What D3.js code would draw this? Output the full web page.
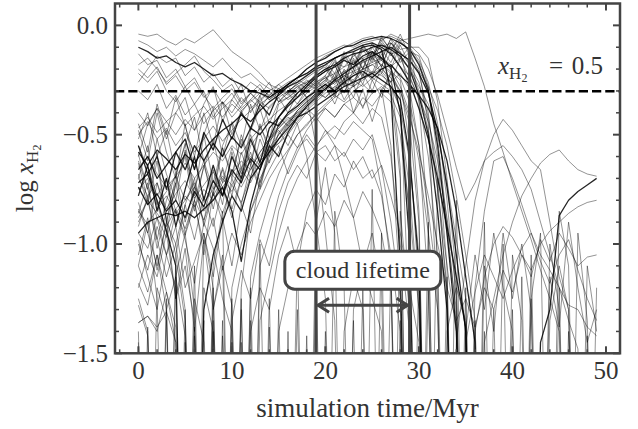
<!DOCTYPE html>
<html>
<head>
<meta charset="utf-8">
<script src="https://cdn.jsdelivr.net/npm/d3@7"></script>
<style>
  html, body { margin: 0; padding: 0; background: #fff; }
  svg { display: block; }
</style>
</head>
<body>
<svg id="chart" width="638" height="429"></svg>
<script>
// Molecular fraction histories of individual clouds, one snapshot per Myr.
const L = -3; // value below the plotted range (cloud dispersed)

const snapshotMyr = [0,1,2,3,4,5,6,7,8,9,10,11,12,13,14,15,16,17,18,19,
  20,21,22,23,24,25,26,27,28,29,30,31,32,33,34,35,36,37,38,39,
  40,41,42,43,44,45,46,47,48,49];

// clouds that start almost fully molecular
const topStartTracks = [
  [-0.04,-0.05,-0.04,-0.07,-0.09,-0.06,-0.08,-0.05,-0.02,-0.07, -0.12,-0.15,-0.18,-0.22,-0.27,-0.29,-0.26,-0.24,-0.20,-0.17, -0.14,-0.12,-0.10,-0.08,-0.06,-0.05,-0.07,-0.04,-0.06,-0.09, -0.35,-0.90,L],
  [-0.10,-0.12,-0.15,-0.14,-0.17,-0.19,-0.17,-0.20,-0.23,-0.22, -0.25,-0.27,-0.30,-0.31,-0.33,-0.30,-0.27,-0.24,-0.22,-0.19, -0.17,-0.15,-0.13,-0.12,-0.10,-0.09,-0.11,-0.30,-1.10,L],
  [-0.07,-0.09,-0.12,-0.10,-0.14,-0.11,-0.13,-0.16,-0.19,-0.15, -0.20,-0.24,-0.22,-0.26,-0.29,-0.31,-0.28,-0.25,-0.27,-0.22, -0.18,-0.24,-0.13,-0.20,-0.09,-0.16,-0.05,-0.12,-0.04,-0.14, -0.20,-0.45,-1.30,L],
  [-0.18,-0.15,-0.20,-0.26,-0.22,-0.18,-0.14,-0.21,-0.25,-0.30, -0.27,-0.35,-0.31,-0.27,-0.33,-0.29,-0.32,-0.28,-0.26,-0.24, -0.21,-0.15,-0.25,-0.12,-0.20,-0.08,-0.15,-0.06,-0.17,-0.12, -0.22,-0.40,-0.75,-1.20,L],
  [-0.22,-0.26,-0.21,-0.30,-0.35,-0.28,-0.24,-0.32,-0.38,-0.33, -0.29,-0.36,-0.31,-0.35,-0.30,-0.27,-0.31,-0.26,-0.29,-0.25, -0.30,-0.24,-0.34,-0.27,-0.38,-0.25,-0.33,-0.21,-0.32,-1.40, L],
  [-0.13,-0.18,-0.16,-0.24,-0.20,-0.28,-0.36,-0.30,-0.42,-0.35, -0.40,-0.33,-0.38,-0.34,-0.30,-0.35,-0.33,-0.29,-0.25,-0.28, -0.23,-0.32,-0.24,-0.40,-0.29,-0.44,-0.30,-0.22,-0.65,L],
  [-0.26,-0.20,-0.14,-0.17,-0.15,-0.23,-0.19,-0.26,-0.22,-0.28, -0.24,-0.31,-0.26,-0.29,-0.34,-0.31,-0.28,-0.33,-0.30,-0.26, -0.24,-0.27,-0.23,-0.26,-0.21,-0.25,-0.22,-0.28,-0.38,-0.90, L],
  [-0.30,-0.34,-0.27,-0.38,-0.32,-0.41,-0.36,-0.45,-0.39,-0.35, -0.42,-0.37,-0.31,-0.36,-0.33,-0.30,-0.34,-0.31,-0.28,-0.24, -0.21,-0.17,-0.19,-0.14,-0.11,-0.13,-0.10,-0.08,-0.12,-0.30, -0.85,L]
];

// clouds that start partly molecular and build up H2
const midStartTracks = [
  [-0.55,-0.68,-0.60,-0.75,-0.58,-0.52,-0.66,-0.49,-0.57,-0.43, -0.52,-0.40,-0.47,-0.36,-0.41,-0.31,-0.27,-0.24,-0.20,-0.17, -0.15,-0.12,-0.10,-0.09,-0.07,-0.06,-0.05,-0.06,-0.08,-0.11, -0.18,-0.30,-0.55,-0.95,-1.40,L],
  [-0.63,-0.80,-0.58,-0.90,-0.69,-0.54,-0.78,-0.50,-0.72,-0.55, -0.45,-0.66,-0.48,-0.38,-0.52,-0.36,-0.33,-0.30,-0.26,-0.23, -0.20,-0.26,-0.15,-0.22,-0.11,-0.17,-0.08,-0.14,-0.07,-0.12, -0.14,-0.28,-0.60,-1.10,L],
  [-0.78,-0.64,-0.85,-0.70,-0.92,-0.75,-0.60,-0.80,-0.64,-0.78, -0.60,-0.70,-0.52,-0.63,-0.47,-0.42,-0.37,-0.33,-0.28,-0.24, -0.21,-0.19,-0.16,-0.18,-0.14,-0.12,-0.15,-0.19,-0.40,-1.00, L],
  [-0.48,-0.62,-0.40,-0.58,-0.70,-0.45,-0.66,-0.50,-0.38,-0.60, -0.44,-0.55,-0.36,-0.48,-0.37,-0.33,-0.40,-0.31,-0.27,-0.29, -0.25,-0.18,-0.28,-0.16,-0.24,-0.12,-0.19,-0.08,-0.15,-0.10, -0.10,-0.15,-0.35,-0.70,-1.15,L],
  [-0.70,-0.55,-0.82,-0.95,-0.72,-0.60,-0.85,-0.64,-0.78,-0.56, -0.70,-0.50,-0.63,-0.45,-0.58,-0.45,-0.40,-0.36,-0.31,-0.28, -0.25,-0.30,-0.20,-0.27,-0.15,-0.24,-0.13,-0.20,-0.09,-0.18, -0.26,-0.42,-0.68,-0.95,-1.30,L],
  [-0.86,-0.72,-0.98,-0.80,-0.68,-0.90,-0.74,-0.62,-0.84,-0.65, -0.78,-0.58,-0.70,-0.52,-0.63,-0.49,-0.44,-0.39,-0.35,-0.32, -0.29,-0.26,-0.23,-0.25,-0.20,-0.18,-0.16,-0.19,-0.15,-0.20, -0.28,-0.36,-0.50,-0.72,-0.98,-1.25,L],
  [-0.59,-0.75,-0.52,-0.68,-0.80,-0.57,-0.74,-0.90,-0.66,-0.82, -0.58,-0.72,-0.55,-0.49,-0.60,-0.45,-0.41,-0.38,-0.34,-0.30, -0.33,-0.29,-0.26,-0.28,-0.24,-0.21,-0.23,-0.26,-0.22,-0.29, -0.55,-1.20,L],
  [-0.66,-0.60,-0.70,-0.64,-0.58,-0.66,-0.55,-0.62,-0.54,-0.60, -0.51,-0.56,-0.47,-0.50,-0.44,-0.46,-0.40,-0.37,-0.33,-0.30, -0.27,-0.30,-0.26,-0.23,-0.21,-0.24,-0.20,-0.18,-0.23,-0.27, -0.32,-0.38,-0.47,-0.62,-0.85,-1.15,-1.45,L],
  [-0.92,-0.78,-1.02,-0.85,-0.72,-0.95,-0.80,-1.05,-0.76,-0.90, -0.70,-0.82,-0.64,-0.75,-0.58,-0.50,-0.44,-0.41,-0.38,-0.34, -0.30,-0.22,-0.31,-0.20,-0.27,-0.14,-0.22,-0.12,-0.19,-0.23, -0.34,-0.60,-1.05,L],
  [-0.74,-0.82,-0.77,-0.85,-0.80,-0.88,-0.76,-0.83,-0.71,-0.78, -0.66,-0.72,-0.61,-0.66,-0.55,-0.60,-0.49,-0.42,-0.37,-0.33, -0.29,-0.25,-0.22,-0.19,-0.16,-0.14,-0.12,-0.10,-0.13,-0.16, -0.22,-0.31,-0.48,-0.74,-1.05,-1.40,L],
  [-0.52,-0.40,-0.60,-0.48,-0.68,-0.55,-0.42,-0.62,-0.75,-0.56, -0.68,-0.52,-0.64,-0.46,-0.55,-0.42,-0.46,-0.39,-0.35,-0.31, -0.28,-0.36,-0.25,-0.33,-0.22,-0.30,-0.19,-0.26,-0.15,-0.24, -0.33,-0.44,-0.62,-0.88,-1.20,L],
  [-0.81,-0.95,-0.72,-0.88,-1.05,-0.82,-0.70,-0.92,-0.76,-0.66, -0.84,-0.70,-0.58,-0.72,-0.56,-0.54,-0.48,-0.43,-0.37,-0.32, -0.28,-0.25,-0.27,-0.23,-0.20,-0.22,-0.18,-0.21,-0.25,-0.55, -1.20,L],
  [-0.95,-0.90,-0.88,-0.86,-0.87,-0.85,-0.88,-0.84,-0.80,-0.74, -0.85,-1.08,-0.82,-0.66,-0.52,-0.42,-0.36,-0.31,-0.27,-0.23, -0.20,-0.18,-0.15,-0.13,-0.12,-0.10,-0.09,-0.11,-0.14,-0.20, -0.32,-0.50,-0.85,-1.30,L],
  [-0.45,-0.58,-0.36,-0.50,-0.33,-0.46,-0.60,-0.40,-0.55,-0.35, -0.50,-0.39,-0.48,-0.32,-0.45,-0.35,-0.31,-0.36,-0.29,-0.26, -0.23,-0.16,-0.25,-0.13,-0.20,-0.10,-0.16,-0.06,-0.11,-0.10, -0.16,-0.26,-0.45,-0.80,-1.25,L],
  [-1.05,-0.88,-1.12,-0.90,-1.00,-0.82,-0.98,-0.78,-0.92,-0.74, -0.88,-0.70,-0.62,-0.74,-0.57,-0.52,-0.46,-0.41,-0.36,-0.31, -0.27,-0.33,-0.21,-0.28,-0.16,-0.22,-0.11,-0.17,-0.08,-0.11, -0.17,-0.29,-0.52,-0.90,-1.35,L],
  [-0.68,-0.82,-0.62,-0.90,-0.73,-0.58,-0.80,-0.65,-0.52,-0.72, -0.56,-0.68,-0.50,-0.62,-0.53,-0.48,-0.55,-0.45,-0.40,-0.44, -0.38,-0.42,-0.36,-0.40,-0.33,-0.37,-0.31,-0.35,-0.50,-0.85, -1.30,L],
  [-0.60,-0.45,-0.38,-0.52,-0.40,-0.33,-0.48,-0.36,-0.28,-0.44, -0.34,-0.27,-0.40,-0.32,-0.26,-0.35,-0.30,-0.27,-0.33,-0.29, -0.26,-0.18,-0.27,-0.15,-0.23,-0.12,-0.19,-0.08,-0.13,-0.16, -0.21,-0.28,-0.39,-0.55,-0.78,-1.05,-1.35,L]
];

// clouds that repeatedly lose most of their H2 early on
const dippingTracks = [
  [-0.84,-0.95,-1.10,-0.90,-1.25,-1.02,-1.40,-0.98,-1.30,-1.05, L,-1.20,-0.85,-0.72,-0.60,-0.52,-0.45,-0.39,-0.35,-0.31, -0.33,-0.28,-0.30,-0.25,-0.28,-0.24,-0.27,-0.30,-0.70,L],
  [-1.20,-1.05,-1.15,-0.95,-1.25,-1.10,-1.35,L,-1.30,-1.10, -1.28,L,-1.15,-0.95,-0.80,-0.68,-0.58,-0.50,-0.46,-0.40, -0.36,-0.32,-0.35,-0.30,-0.27,-0.31,-0.29,-0.55,-1.20,L],
  [-1.36,-1.33,-1.40,-1.22,-1.45,L,-1.38,L,L,-1.42, L,-1.25,L,-1.10,-0.95,-0.78,-0.66,-0.56,-0.48,-0.42, -0.37,-0.33,-0.30,-0.28,-0.25,-0.22,-0.20,-0.24,-0.30,-0.45, -0.90,L],
  [-0.62,-0.75,-0.88,-1.05,-0.92,-1.20,-1.08,-0.95,-1.15,-0.88, -1.10,-0.82,-0.95,-0.70,-0.62,-0.55,-0.68,-0.58,-0.50,-0.56, -0.48,-0.52,-0.44,-0.40,-0.45,-0.38,-0.42,-0.60,-1.00,-1.40, L],
  [-0.90,-0.80,-0.98,-1.15,-1.00,-1.30,L,-1.20,-1.40,L, -1.35,-1.12,-1.25,-0.98,-1.10,-0.85,-0.72,-0.64,-0.70,-0.58, -0.62,-0.55,-0.60,-0.52,-0.57,-0.50,-0.65,-0.90,-1.25,L],
  [-1.18,-1.28,-1.05,-1.22,-1.38,L,-1.25,-1.45,L,L, L,L,-1.40,-1.20,-1.30,-1.05,-0.92,-1.10,-0.85,-0.75, -0.82,-0.68,-0.74,-0.62,-0.70,-0.66,-0.78,-1.05,-1.40,L],
  [-0.72,-0.68,-0.80,-0.94,-1.10,L,L,-1.30,-1.05,-0.90, -0.78,-0.85,-0.70,-0.64,-0.58,-0.52,-0.47,-0.42,-0.40,-0.37, -0.34,-0.31,-0.28,-0.26,-0.24,-0.22,-0.25,-0.28,-0.34,-0.60, -1.10,L],
  [-1.00,-1.12,-0.92,-1.05,-0.85,-0.98,-1.18,-0.90,-1.02,-1.25, -1.40,L,L,-1.35,-1.15,-0.95,-0.80,-0.70,-0.62,-0.55, -0.50,-0.46,-0.50,-0.44,-0.48,-0.52,-0.75,-1.10,L],
  [-1.36,-1.33,-1.38,-1.31,-1.45,L,-1.42,L,-1.48,L, L,L,-1.35,L,L,-1.40,-1.20,-1.02,-0.90,-0.96, -0.85,-0.92,-0.80,-0.88,-0.76,-0.84,-0.95,-1.20,L],
  [-0.55,-0.65,-0.78,-0.70,-0.85,-0.96,-0.82,-1.00,-0.88,-1.12, -0.95,-1.05,-0.90,-0.80,-0.70,-0.63,-0.57,-0.50,-0.45,-0.41, -0.38,-0.42,-0.36,-0.33,-0.37,-0.31,-0.28,-0.32,-0.42,-0.75, -1.30,L]
];

// clouds destroyed before the main peak
const earlyLossTracks = [
  [-0.40,-0.46,-0.38,-0.44,-0.50,-0.43,-0.48,-0.41,-0.37,-0.42, -0.36,-0.40,-0.34,-0.38,-0.32,-0.29,-0.31,-0.28,-0.33,-0.55, -0.95,-1.35,L,-1.30,-1.10,-1.25,-1.40,L],
  [-0.95,-1.02,-0.88,-0.97,-0.84,-0.93,-0.80,-0.89,-0.77,-0.86, -0.73,-0.81,-0.69,-0.60,-0.53,-0.47,-0.42,-0.45,-0.60,-0.90, -1.25,L,-1.40,-1.15,-1.30,L],
  [-0.75,-0.70,-0.82,-0.76,-0.69,-0.80,-0.72,-0.85,-0.78,-0.70, -0.76,-0.66,-0.72,-0.62,-0.58,-0.54,-0.50,-0.56,-0.52,-0.58, -0.55,-0.62,-0.58,-0.66,-0.60,-0.70,-0.64,-0.78,-0.95,-1.20, -1.45,L],
  [-0.88,-0.80,-0.86,-0.92,-0.84,-0.78,-0.83,-0.75,-0.80,-0.72, -0.68,-0.74,-0.66,-0.58,-0.52,-0.47,-0.43,-0.40,-0.38,-0.42, -0.48,-0.55,-0.70,-0.88,-1.10,-0.95,-1.20,L,-1.35,L]
];

// clouds hovering near the bottom of the range, with brief H2 episodes
const flickerTracks = [
  [-1.10,-0.90,-1.25,L,-1.05,-1.35,L,-0.95,-1.20,L, L,-1.30,L,L,L,L,-1.40,L,L,-0.90, -0.65,-0.95,L,L,-1.20,L,L,L,-0.85,-1.30, L,L,L,-1.15,L,L,L,-0.90,L,L, -1.30,L,-1.05,L,L,-1.20,L,-0.95,-1.35,L],
  [-1.45,L,-1.20,-1.35,L,L,-1.10,L,-1.40,L, -1.25,L,L,-1.00,L,L,L,-1.30,L,L, L,-0.85,-1.20,L,L,-0.75,L,L,L,L, -1.10,L,-0.70,-1.25,L,L,-1.35,L,L,-1.00, L,L,-1.25,-0.95,L,L,-1.40,L,L,-1.20],
  [-0.98,-1.15,-1.30,-1.05,-1.20,L,L,L,-1.10,-0.85, L,L,-1.20,L,L,-1.30,L,L,L,-1.15, L,L,L,-1.35,L,L,-0.95,L,L,-1.40, L,-1.20,L,L,-0.80,L,L,L,-1.30,L, L,-1.15,L,L,-1.00,-1.30,L,L,-1.10,-1.40],
  [-1.28,-1.42,L,L,-1.15,-0.95,-1.30,L,L,L, -1.45,L,L,L,-1.25,L,L,-1.05,L,L, -1.40,L,L,L,L,L,L,-1.10,L,L, L,-0.90,L,L,L,-1.20,L,-1.40,L,L, -1.05,-1.35,L,L,L,-0.85,-1.10,L,L,L],
  [-1.40,L,L,-1.25,L,L,L,L,L,-1.35, L,L,L,L,L,L,L,L,L,L, L,L,L,L,L,L,L,L,L,L, L,L,L,L,L,-1.45,-1.22,-1.05,-1.15,-1.25, -1.12,-1.02,-0.95,-1.08,-1.18,-1.05,-0.98,-1.12,-1.25,-1.35],
  [L,-1.38,L,L,L,-1.30,L,L,-1.20,L, L,L,L,L,L,L,L,L,L,L, L,L,L,L,L,L,L,L,L,L, L,L,L,L,L,L,-1.20,-0.85,-0.62,-0.60, -0.70,-0.82,-0.95,-1.05,-1.12,-1.20,-1.28,-1.30,-1.38,-1.42]
];

// clouds that survive longer or re-form molecular gas late
const lateTracks = [
  [-0.20,-0.24,-0.19,-0.27,-0.23,-0.30,-0.26,-0.33,-0.29,-0.36, -0.31,-0.38,-0.34,-0.29,-0.32,-0.27,-0.24,-0.21,-0.18,-0.15, -0.13,-0.11,-0.09,-0.10,-0.08,-0.07,-0.06,-0.05,-0.07,-0.06, -0.05,-0.04,-0.05,-0.04,-0.06,-0.03,-0.15,-0.28,-0.45,-0.58, -0.72,-0.85,-0.98,-1.12,-1.25,-1.40,L],
  [-1.10,-1.22,-1.05,-1.30,-1.15,-1.42,L,-1.35,L,L, L,-1.45,L,L,-1.38,L,L,L,-1.42,L, L,L,L,L,L,L,L,L,L,L, L,L,L,L,-1.45,-1.10,-0.80,-0.62,-0.50,-0.43, -0.48,-0.55,-0.62,-0.66,-0.90,-1.15,-1.30,L],
  [-0.50,-0.44,-0.52,-0.47,-0.55,-0.49,-0.58,-0.52,-0.46,-0.53, -0.48,-0.43,-0.39,-0.35,-0.38,-0.33,-0.30,-0.27,-0.24,-0.21, -0.19,-0.25,-0.14,-0.20,-0.10,-0.15,-0.07,-0.13,-0.12,-0.18, -0.30,-0.48,-0.75,-1.10,-1.40,L,L,-1.45,-1.25,-1.05, -0.90,-0.78,-0.70,-0.63,-0.59,-0.57,-0.62,-0.66,-0.68,-0.69],
  [-0.58,-0.64,-0.57,-0.61,-0.66,-0.59,-0.63,-0.57,-0.52,-0.48, -0.45,-0.41,-0.44,-0.39,-0.35,-0.32,-0.28,-0.26,-0.23,-0.20, -0.18,-0.15,-0.13,-0.11,-0.09,-0.08,-0.10,-0.13,-0.19,-0.26, -0.38,-0.52,-0.70,-0.92,-1.15,-1.38,L,L,L,L, L,L,L,-1.45,-1.30,-0.87,-0.80,-0.76,-0.73,-0.70],
  [-0.70,-0.78,-0.72,-0.84,-0.77,-0.71,-0.79,-0.73,-0.67,-0.74, -0.68,-0.62,-0.66,-0.58,-0.52,-0.46,-0.41,-0.37,-0.33,-0.30, -0.27,-0.24,-0.21,-0.19,-0.17,-0.15,-0.18,-0.22,-0.30,-0.42, -0.58,-0.78,-1.00,-1.20,-1.35,-1.25,-1.38,-1.20,-1.30,-1.12, -1.22,-1.05,-1.15,-0.98,-1.08,-0.95,-1.02,-1.10,-1.06,-1.05],
  [-0.65,-0.60,-0.68,-0.74,-0.69,-0.63,-0.70,-0.64,-0.58,-0.62, -0.55,-0.59,-0.52,-0.47,-0.43,-0.39,-0.36,-0.33,-0.30,-0.27, -0.24,-0.22,-0.19,-0.17,-0.15,-0.13,-0.16,-0.20,-0.28,-0.40, -0.62,-0.95,-1.30,L,L,-1.40,-1.05,-1.30,-0.95,-1.20, -1.40,L,-1.25,L,-1.35,-1.10,-1.30,L,-1.42,L],
  [-0.85,-0.91,-0.84,-0.78,-0.86,-0.80,-0.74,-0.81,-0.75,-0.69, -0.73,-0.65,-0.60,-0.64,-0.56,-0.50,-0.45,-0.40,-0.36,-0.32, -0.29,-0.26,-0.23,-0.21,-0.19,-0.17,-0.15,-0.18,-0.24,-0.35, -0.55,-0.85,-1.20,L,L,L,-1.40,-1.15,-1.00,-0.92, -0.97,-1.05,-1.12,-1.00,-0.94,-0.90,-0.86,-0.83,-0.81,-0.80],
  [-0.47,-0.42,-0.49,-0.44,-0.40,-0.46,-0.41,-0.37,-0.43,-0.38, -0.34,-0.39,-0.35,-0.31,-0.34,-0.30,-0.27,-0.24,-0.22,-0.19, -0.17,-0.22,-0.12,-0.18,-0.09,-0.14,-0.06,-0.11,-0.06,-0.09, -0.13,-0.20,-0.32,-0.48,-0.65,-0.80,-0.72,-0.62,-0.58,-0.55, -0.60,-0.66,-0.75,-0.90,-1.05,-1.20,-1.35,-1.48,L],
  [-1.25,-1.40,L,-1.30,L,-1.45,L,L,-1.35,L, -1.20,-1.00,-0.85,-0.75,-0.66,-0.58,-0.50,-0.44,-0.39,-0.35, -0.31,-0.28,-0.25,-0.22,-0.20,-0.18,-0.21,-0.26,-0.38,-0.62, -1.05,L,L,-1.40,-1.20,-1.35,L,-1.10,-1.40,-0.95, -1.25,-1.00,-1.30,L,-1.15,-1.38,-0.90,-1.20,-1.45,-1.30]
];

// tracks drawn with a heavier stroke
const emphasizedTracks = ["top-1", "mid-0", "mid-2", "mid-7", "mid-9", "mid-12", "dip-6", "late-3"];

const xMajorTicks = [0, 10, 20, 30, 40, 50];
const xMinorTicks = [-2, 2, 4, 6, 8, 12, 14, 16, 18, 22, 24, 26, 28, 32, 34, 36, 38, 42, 44, 46, 48];
const yMajorTicks = [-1.5, -1.0, -0.5, 0.0];
const yMinorTicks = [-1.4, -1.3, -1.2, -1.1, -0.9, -0.8, -0.7, -0.6, -0.4, -0.3, -0.2, -0.1];

const halfMolecular = Math.log10(0.5);          // x_H2 = 0.5 threshold
const lifetimeBounds = [19, 29];                // cloud lifetime window, Myr
const lifetimeArrowLevel = -1.28;
const lifetimeLabelPos = [24, -1.12];

// ---------------------------------------------------------------
const svg = d3.select("#chart");
const serif = "'Liberation Serif', 'Times New Roman', serif";
const ink = "#444";
const textInk = "#333";

const plot = { left: 115, right: 620, top: 3.5, bottom: 353.3 };
const x = d3.scaleLinear().domain([-2.5, 51.5]).range([plot.left, plot.right]);
const y = d3.scaleLinear().domain([-1.5, 0.1]).range([plot.bottom, plot.top]);

svg.append("defs").append("clipPath").attr("id", "plot-clip")
  .append("rect")
  .attr("x", plot.left).attr("y", plot.top)
  .attr("width", plot.right - plot.left).attr("height", plot.bottom - plot.top);

const body = svg.append("g").attr("clip-path", "url(#plot-clip)");

const line = d3.line()
  .x((d, i) => x(snapshotMyr[i]))
  .y(d => y(d));

const groups = [
  ["top", topStartTracks], ["mid", midStartTracks], ["dip", dippingTracks],
  ["loss", earlyLossTracks], ["flicker", flickerTracks], ["late", lateTracks]
];
const tracks = [];
groups.forEach(([key, arr]) => arr.forEach((vals, i) =>
  tracks.push({ id: `${key}-${i}`, vals, bold: emphasizedTracks.includes(`${key}-${i}`) })));

body.append("g").selectAll("path")
  .data(tracks.filter(t => !t.bold))
  .join("path")
  .attr("d", d => line(d.vals))
  .attr("fill", "none")
  .attr("stroke", "#000")
  .attr("stroke-opacity", 0.5)
  .attr("stroke-width", 0.85)
  .attr("stroke-linejoin", "round");

body.append("g").selectAll("path")
  .data(tracks.filter(t => t.bold))
  .join("path")
  .attr("d", d => line(d.vals))
  .attr("fill", "none")
  .attr("stroke", "#000")
  .attr("stroke-opacity", 0.85)
  .attr("stroke-width", 1.3)
  .attr("stroke-linejoin", "round");

// threshold x_H2 = 0.5
body.append("line")
  .attr("x1", plot.left).attr("x2", plot.right)
  .attr("y1", y(halfMolecular)).attr("y2", y(halfMolecular))
  .attr("stroke", "#000").attr("stroke-width", 2.5)
  .attr("stroke-dasharray", "9.25,4");

// lifetime window edges
body.selectAll("line.bound")
  .data(lifetimeBounds)
  .join("line")
  .attr("class", "bound")
  .attr("x1", d => x(d)).attr("x2", d => x(d))
  .attr("y1", plot.top).attr("y2", plot.bottom)
  .attr("stroke", ink).attr("stroke-width", 3);

// double-headed lifetime arrow
const ay = y(lifetimeArrowLevel);
const ax0 = x(lifetimeBounds[0]), ax1 = x(lifetimeBounds[1]);
const arrow = body.append("g").attr("stroke", ink).attr("stroke-width", 3).attr("fill", "none");
arrow.append("line").attr("x1", ax0 + 1.5).attr("x2", ax1 - 1.5).attr("y1", ay).attr("y2", ay);
arrow.append("polyline")
  .attr("points", `${ax0 + 13},${ay - 7} ${ax0 + 2},${ay} ${ax0 + 13},${ay + 7}`)
  .attr("stroke-linejoin", "miter");
arrow.append("polyline")
  .attr("points", `${ax1 - 13},${ay - 7} ${ax1 - 2},${ay} ${ax1 - 13},${ay + 7}`)
  .attr("stroke-linejoin", "miter");

// label box
const lx = x(lifetimeLabelPos[0]), ly = y(lifetimeLabelPos[1]);
const labelG = svg.append("g");
labelG.append("rect")
  .attr("x", lx - 78).attr("y", ly - 19)
  .attr("width", 156).attr("height", 38)
  .attr("rx", 10).attr("ry", 10)
  .attr("fill", "#fff").attr("stroke", ink).attr("stroke-width", 3);
labelG.append("text")
  .attr("x", lx).attr("y", ly + 7.5)
  .attr("text-anchor", "middle")
  .attr("font-family", serif).attr("font-size", 24)
  .attr("fill", textInk)
  .text("cloud lifetime");

// threshold annotation
const ann = svg.append("g").attr("font-family", serif).attr("fill", textInk);
const annBase = 74;
const annX = ann.append("text").attr("x", 498).attr("y", annBase).attr("font-size", 25);
annX.append("tspan").attr("font-style", "italic").text("x");
annX.append("tspan").attr("font-size", 17).attr("dy", 5).text("H");
annX.append("tspan").attr("font-size", 12).attr("dy", 3).text("2");
ann.append("text").attr("x", 556).attr("y", annBase).attr("font-size", 25)
  .attr("text-anchor", "middle").text("=");
ann.append("text").attr("x", 603).attr("y", annBase).attr("font-size", 25)
  .attr("text-anchor", "end").text("0.5");

// frame and ticks
const axes = svg.append("g").attr("stroke", ink);
function xTick(v, len, w) {
  axes.append("line").attr("x1", x(v)).attr("x2", x(v))
    .attr("y1", plot.bottom).attr("y2", plot.bottom - len).attr("stroke-width", w);
  axes.append("line").attr("x1", x(v)).attr("x2", x(v))
    .attr("y1", plot.top).attr("y2", plot.top + len).attr("stroke-width", w);
}
function yTick(v, len, w) {
  axes.append("line").attr("y1", y(v)).attr("y2", y(v))
    .attr("x1", plot.left).attr("x2", plot.left + len).attr("stroke-width", w);
  axes.append("line").attr("y1", y(v)).attr("y2", y(v))
    .attr("x1", plot.right).attr("x2", plot.right - len).attr("stroke-width", w);
}
xMajorTicks.forEach(v => xTick(v, 7, 2));
xMinorTicks.forEach(v => xTick(v, 4, 1.5));
yMajorTicks.forEach(v => yTick(v, 7, 2));
yMinorTicks.forEach(v => yTick(v, 4, 1.5));
axes.append("rect")
  .attr("x", plot.left).attr("y", plot.top)
  .attr("width", plot.right - plot.left).attr("height", plot.bottom - plot.top)
  .attr("fill", "none").attr("stroke-width", 2.5);

// tick labels
const fmtY = v => (v < 0 ? "\u2212" : "") + Math.abs(v).toFixed(1);
svg.append("g").selectAll("text")
  .data(xMajorTicks).join("text")
  .attr("x", d => x(d)).attr("y", 378.5)
  .attr("text-anchor", "middle")
  .attr("font-family", serif).attr("font-size", 25).attr("fill", textInk)
  .text(d => d);
svg.append("g").selectAll("text")
  .data(yMajorTicks).join("text")
  .attr("x", 108).attr("y", d => y(d) + 8.5)
  .attr("text-anchor", "end")
  .attr("font-family", serif).attr("font-size", 25).attr("fill", textInk)
  .text(fmtY);

// axis titles
svg.append("text")
  .attr("x", (plot.left + plot.right) / 2).attr("y", 417)
  .attr("text-anchor", "middle")
  .attr("font-family", serif).attr("font-size", 27).attr("fill", textInk)
  .text("simulation time/Myr");

const yTitle = svg.append("text")
  .attr("transform", `translate(33,${(plot.top + plot.bottom) / 2}) rotate(-90)`)
  .attr("text-anchor", "middle")
  .attr("font-family", serif).attr("font-size", 25).attr("fill", textInk);
yTitle.append("tspan").text("log ");
yTitle.append("tspan").attr("font-style", "italic").text("x");
yTitle.append("tspan").attr("font-size", 17).attr("dy", 5).text("H");
yTitle.append("tspan").attr("font-size", 12).attr("dy", 3).text("2");
</script>
</body>
</html>
